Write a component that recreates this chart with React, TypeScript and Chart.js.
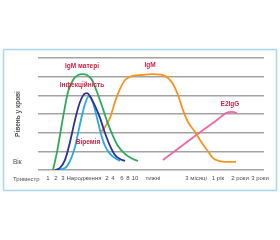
import { useEffect, useRef } from "react";
import { Chart, registerables } from "chart.js";

Chart.register(...registerables);

// x axis: schematic timeline positions (arbitrary units), y: level 0..6
const xTickValues = [10, 18, 25, 46, 69, 75, 84, 90, 97, 115, 158, 180, 202, 222];
const xTickLabels = ["1", "2", "3", "Народження", "2", "4", "6", "8", "10", "тижні", "3 місяці", "1 рік", "2 роки", "3 роки"];

const maternalIgmX = [15, 19, 22, 26, 30, 35, 40, 44, 49, 54, 59, 64, 69, 75, 80, 87, 93, 100];
const maternalIgmY = [0, 0.96, 1.87, 3.11, 4.18, 4.82, 5.09, 5.14, 5.09, 4.82, 4.18, 3.43, 2.62, 1.82, 1.29, 0.86, 0.64, 0.48];

const infectivityX = [17, 22, 27, 32, 37, 42, 47, 49, 52, 57, 62, 67, 72, 77, 82, 87];
const infectivityY = [0, 0.11, 0.54, 1.5, 2.68, 3.64, 4.1, 4.12, 3.95, 3.43, 2.79, 1.98, 1.29, 0.8, 0.59, 0.48];

const viremiaX = [18, 27, 32, 37, 42, 47, 51, 55, 59, 63, 67, 72, 77, 82];
const viremiaY = [0, 0.11, 0.48, 1.23, 2.46, 3.54, 3.96, 3.59, 2.79, 1.93, 1.29, 0.86, 0.64, 0.48];

const igmX = [62, 67, 72, 77, 82, 87, 94, 104, 114, 124, 130, 135, 140, 145, 150, 157, 162, 169, 175, 182, 192, 198];
const igmY = [1.98, 2.3, 2.79, 3.64, 4.34, 4.82, 5.03, 5.09, 5.14, 5.09, 4.93, 4.61, 4.02, 3.21, 2.57, 2.04, 1.61, 1.07, 0.64, 0.48, 0.43, 0.43];

const e2IggX = [125, 145, 161, 179, 188, 194, 199];
const e2IggY = [0.54, 1.34, 1.98, 2.68, 3.05, 3.11, 3.05];

const annotationTexts = ["IgM матері", "Інфекційність", "Віремія", "IgM", "E2IgG"];
const annotationX = [44, 44, 50, 112, 192];
const annotationY = [5.57, 4.55, 1.5, 5.62, 3.54];

const yAxisTitle = "Рівень у крові";
const ageLabel = "Вік";
const trimesterLabel = "Триместр";

const zip = (xs: number[], ys: number[]) => xs.map((x, i) => ({ x, y: ys[i] }));

const FONT = "'Liberation Sans', 'DejaVu Sans', sans-serif";

const decorPlugin = {
  id: "decor",
  beforeDraw(chart: any) {
    const ctx = chart.ctx;
    ctx.save();
    ctx.fillStyle = "#ffffff";
    ctx.fillRect(0, 0, chart.width, chart.height);
    const a = chart.chartArea;
    ctx.strokeStyle = "#a9d5ef";
    ctx.lineWidth = 1.5;
    ctx.strokeRect(a.left - 34.5, a.top - 8.5, a.right - a.left + 47, a.bottom - a.top + 29);
    ctx.restore();
  },
  afterDatasetsDraw(chart: any) {
    const ctx = chart.ctx;
    const xs = chart.scales.x;
    const ys = chart.scales.y;
    const a = chart.chartArea;
    ctx.save();
    ctx.fillStyle = "#cf2346";
    ctx.font = `bold 6.5px ${FONT}`;
    ctx.textAlign = "center";
    ctx.textBaseline = "middle";
    annotationTexts.forEach((t, i) => {
      ctx.fillText(t, xs.getPixelForValue(annotationX[i]), ys.getPixelForValue(annotationY[i]));
    });
    ctx.fillStyle = "#4d4d4d";
    ctx.font = `6.5px ${FONT}`;
    ctx.textAlign = "left";
    ctx.fillText(ageLabel, a.left - 25, a.bottom - 8);
    ctx.font = `6px ${FONT}`;
    ctx.fillText(trimesterLabel, a.left - 25, a.bottom + 9);
    ctx.restore();
  },
};

export default function App() {
  const ref = useRef<HTMLCanvasElement | null>(null);
  useEffect(() => {
    if (!ref.current) return;
    const mk = (label: string, xs: number[], ys: number[], color: string) => ({
      label,
      data: zip(xs, ys),
      borderColor: color,
      backgroundColor: color,
      borderWidth: 1.8,
      pointRadius: 0,
      fill: false,
      tension: 0.4,
      cubicInterpolationMode: "monotone" as const,
    });
    const chart = new Chart(ref.current, {
      type: "line",
      data: {
        datasets: [
          mk("IgM матері", maternalIgmX, maternalIgmY, "#2fa95a"),
          mk("Інфекційність", infectivityX, infectivityY, "#2e3192"),
          mk("Віремія", viremiaX, viremiaY, "#27aae1"),
          mk("IgM", igmX, igmY, "#f7941d"),
          mk("E2IgG", e2IggX, e2IggY, "#ec67a8"),
        ],
      },
      options: {
        animation: false,
        responsive: false,
        devicePixelRatio: 1,
        layout: { padding: { left: 8, right: 16, top: 58, bottom: 50 } },
        plugins: { legend: { display: false }, tooltip: { enabled: false } },
        scales: {
          x: {
            type: "linear",
            min: 0,
            max: 226,
            grid: { display: false, drawTicks: false },
            border: { display: false },
            afterBuildTicks: (s: any) => {
              s.ticks = xTickValues.map((v) => ({ value: v }));
            },
            afterFit: (s: any) => {
              s.height = 20;
            },
            ticks: {
              autoSkip: false,
              maxRotation: 0,
              padding: 5,
              color: "#4d4d4d",
              font: { family: FONT, size: 6 },
              callback: (_v: any, i: number) => xTickLabels[i],
            },
          },
          y: {
            min: 0,
            max: 6,
            grid: { color: "#a3a3a3", lineWidth: 1.5, drawTicks: false },
            border: { display: false },
            afterFit: (s: any) => {
              s.width = 30;
            },
            ticks: { display: false, stepSize: 1 },
            title: {
              display: true,
              text: yAxisTitle,
              color: "#4d4d4d",
              font: { family: FONT, size: 6.5, weight: "bold" },
              padding: { top: 6, bottom: 0 },
            },
          },
        },
      },
      plugins: [decorPlugin],
    });
    return () => chart.destroy();
  }, []);
  return (
    <div style={{ position: "fixed", left: 0, top: 0, width: 280, height: 240 }}>
      <canvas ref={ref} width={280} height={240} style={{ width: 280, height: 240 }} />
    </div>
  );
}
